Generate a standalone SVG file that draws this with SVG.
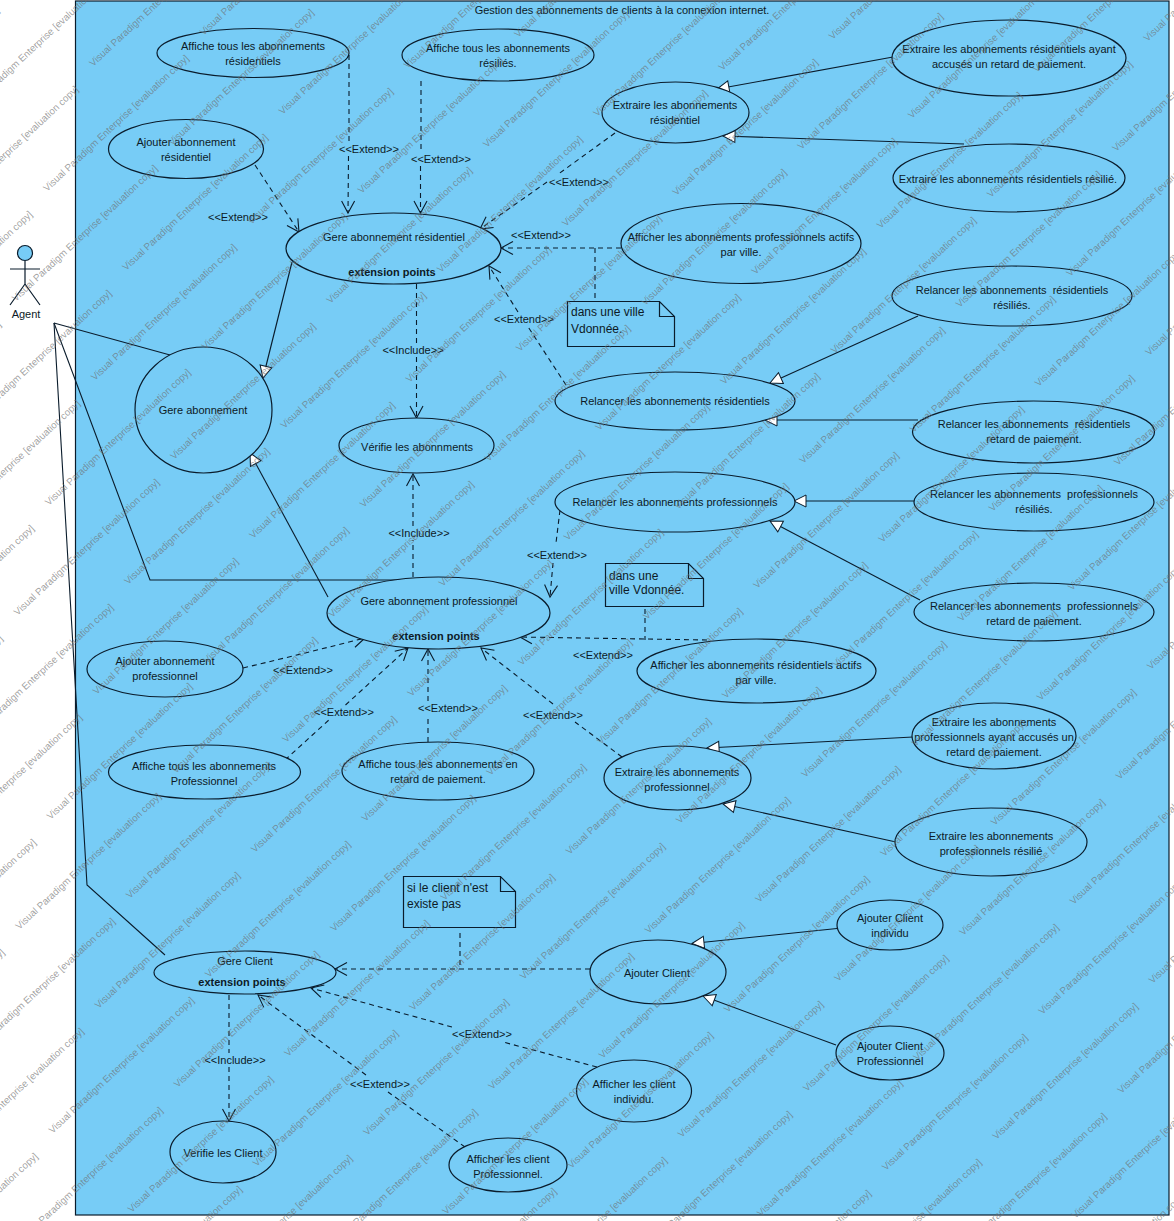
<svg xmlns="http://www.w3.org/2000/svg" xmlns:xlink="http://www.w3.org/1999/xlink" width="1174" height="1221" viewBox="0 0 1174 1221">
<style>
text{font-family:"Liberation Sans",Arial,sans-serif;font-size:11px;fill:#0d1a26;text-anchor:middle}
.n ellipse,.n rect,.n path,.n line,.n circle{fill:none;stroke:#0a1c2c;stroke-width:1.2}
.n ellipse,.n circle,.a circle{fill:#77ccf6}
.b{font-weight:bold}
.t{font-size:12px;text-anchor:start}
.l{fill:none;stroke:#0a1c2c;stroke-width:1.1}
.d{stroke-dasharray:5 4}
.w{fill:#6e6e6e;fill-opacity:.65;text-anchor:start;font-size:9.8px}
</style>
<defs>
<marker id="o" markerWidth="16" markerHeight="16" refX="13" refY="8" orient="auto" markerUnits="userSpaceOnUse"><path d="M1 1.5L13 8L1 14.5" fill="none" stroke="#0a1c2c" stroke-width="1.1"/></marker>
<marker id="h" markerWidth="16" markerHeight="16" refX="13" refY="8" orient="auto" markerUnits="userSpaceOnUse"><path d="M1 2L13 8L1 14Z" fill="#fff" stroke="#0a1c2c" stroke-width="1"/></marker>
<text id="wm" class="w" transform="rotate(-43)">Visual Paradigm Enterprise [evaluation copy]</text>
<g id="r">
<use xlink:href="#wm"/>
<use xlink:href="#wm" transform="translate(79.1 79)"/>
<use xlink:href="#wm" transform="translate(158.2 158)"/>
<use xlink:href="#wm" transform="translate(237.3 237)"/>
<use xlink:href="#wm" transform="translate(316.4 316)"/>
<use xlink:href="#wm" transform="translate(395.5 395)"/>
<use xlink:href="#wm" transform="translate(474.6 474)"/>
<use xlink:href="#wm" transform="translate(553.7 553)"/>
<use xlink:href="#wm" transform="translate(632.8 632)"/>
<use xlink:href="#wm" transform="translate(711.9 711)"/>
<use xlink:href="#wm" transform="translate(791 790)"/>
<use xlink:href="#wm" transform="translate(870.1 869)"/>
<use xlink:href="#wm" transform="translate(949.2 948)"/>
<use xlink:href="#wm" transform="translate(1028.3 1027)"/>
<use xlink:href="#wm" transform="translate(1107.4 1106)"/>
<use xlink:href="#wm" transform="translate(1186.5 1185)"/>
<use xlink:href="#wm" transform="translate(1265.6 1264)"/>
</g>
</defs>
<rect x="75.5" y="1" width="1093.5" height="1214" fill="#77ccf6" stroke="#0a1c2c" stroke-width="1.2"/>
<text x="622" y="14">Gestion des abonnements de clients à la connexion internet.</text>
<g id="connectors">
<g class="l">
<path d="M54 323L170 355"/><path d="M54 323L150 580H413"/><path d="M54 323L87 885L165 955"/>
<path d="M292 262L263 378" marker-end="url(#h)"/><path d="M328 597L250 453" marker-end="url(#h)"/>
<path d="M893 57L717 89" marker-end="url(#h)"/><path d="M964 144L723 136" marker-end="url(#h)"/>
<path d="M918 316L770 383" marker-end="url(#h)"/><path d="M918 420H765" marker-end="url(#h)"/>
<path d="M914 501H794" marker-end="url(#h)"/><path d="M920 600L770 521" marker-end="url(#h)"/>
<path d="M913 737L707 748" marker-end="url(#h)"/><path d="M896 842L723 804" marker-end="url(#h)"/>
<path d="M837 928.5L692 943.5" marker-end="url(#h)"/><path d="M836 1045L703 996" marker-end="url(#h)"/>
</g>
<g class="l d">
<path d="M349 55V142"/><path d="M348.500 156L348 213" marker-end="url(#o)"/>
<path d="M421 81V152"/><path d="M420.500 166V213" marker-end="url(#o)"/>
<path d="M255 165L299 232" marker-end="url(#o)"/>
<path d="M615 133L557 175"/><path d="M547 182L480 229" marker-end="url(#o)"/>
<path d="M621 248H501" marker-end="url(#o)"/><path d="M595 248V301"/>
<path d="M566 385L527.500 326"/><path d="M518 312L489 266" marker-end="url(#o)"/>
<path d="M416.500 284V343"/><path d="M416.500 357V418" marker-end="url(#o)"/>
<path d="M413 577V540"/><path d="M413 526V474" marker-end="url(#o)"/>
<path d="M560 510L556 543"/><path d="M553 563L550 597" marker-end="url(#o)"/>
<path d="M243 668Q310 652 365 638" marker-end="url(#o)"/>
<path d="M285 760L330 719"/><path d="M345.500 705L408 648" marker-end="url(#o)"/>
<path d="M428 742V715"/><path d="M428 701V649" marker-end="url(#o)"/>
<path d="M622 757L575 722"/><path d="M553 704L481 648" marker-end="url(#o)"/>
<path d="M707 640L520 637" marker-end="url(#o)"/>
<path d="M645 609V640"/><path d="M460 933V969"/>
<path d="M590 969H335" marker-end="url(#o)"/>
<path d="M597 1067L503 1042"/><path d="M452 1027L311 988" marker-end="url(#o)"/>
<path d="M465 1147L388 1092"/><path d="M366 1075L258 995" marker-end="url(#o)"/>
<path d="M229 995V1053"/><path d="M229 1067V1121" marker-end="url(#o)"/>
</g>
<text x="369" y="153">&lt;&lt;Extend&gt;&gt;</text><text x="441" y="163">&lt;&lt;Extend&gt;&gt;</text>
<text x="238" y="221">&lt;&lt;Extend&gt;&gt;</text><text x="579" y="186">&lt;&lt;Extend&gt;&gt;</text>
<text x="541" y="239">&lt;&lt;Extend&gt;&gt;</text><text x="524" y="323">&lt;&lt;Extend&gt;&gt;</text>
<text x="413" y="354">&lt;&lt;Include&gt;&gt;</text><text x="419" y="537">&lt;&lt;Include&gt;&gt;</text>
<text x="557" y="559">&lt;&lt;Extend&gt;&gt;</text><text x="303" y="674">&lt;&lt;Extend&gt;&gt;</text>
<text x="344" y="716">&lt;&lt;Extend&gt;&gt;</text><text x="448" y="712">&lt;&lt;Extend&gt;&gt;</text>
<text x="553" y="719">&lt;&lt;Extend&gt;&gt;</text><text x="603" y="659">&lt;&lt;Extend&gt;&gt;</text>
<text x="482" y="1038">&lt;&lt;Extend&gt;&gt;</text><text x="380" y="1088">&lt;&lt;Extend&gt;&gt;</text>
<text x="235" y="1064">&lt;&lt;Include&gt;&gt;</text>
</g>
<g id="agent" class="n a"><circle cx="25" cy="253" r="7.500"/><path d="M25 261V284M10 269H40M25 284L10 305M25 284L40 305"/><text x="26" y="318">Agent</text></g>
<g id="n1" class="n"><ellipse cx="253" cy="53" rx="96" ry="24.500"/><text x="253" y="50">Affiche tous les abonnements</text><text x="253" y="65">résidentiels</text></g>
<g id="n2" class="n"><ellipse cx="498" cy="55" rx="96" ry="26"/><text x="498" y="52">Affiche tous les abonnements</text><text x="498" y="67">résiliés.</text></g>
<g id="n3" class="n"><ellipse cx="675.500" cy="112.500" rx="73.500" ry="30.500"/><text x="675" y="109">Extraire les abonnements</text><text x="675" y="124">résidentiel</text></g>
<g id="n4" class="n"><ellipse cx="1009" cy="58" rx="117" ry="38"/><text x="1009" y="53">Extraire les abonnements résidentiels ayant</text><text x="1009" y="68">accusés un retard de paiement.</text></g>
<g id="n5" class="n"><ellipse cx="1009" cy="178" rx="116" ry="34"/><text x="1008" y="183">Extraire les abonnements résidentiels résilié.</text></g>
<g id="n6" class="n"><ellipse cx="186" cy="149" rx="77.500" ry="29.500"/><text x="186" y="146">Ajouter abonnement</text><text x="186" y="161">résidentiel</text></g>
<g id="n7" class="n"><ellipse cx="393.500" cy="248.500" rx="107.500" ry="35.500"/><text x="394" y="241">Gere abonnement résidentiel</text><text class="b" x="392" y="276">extension points</text></g>
<g id="n8" class="n"><ellipse cx="741" cy="243.500" rx="120" ry="40"/><text x="741" y="241">Afficher les abonnements professionnels actifs</text><text x="741" y="256">par ville.</text></g>
<g id="n9" class="n"><ellipse cx="1012" cy="296" rx="120" ry="30"/><text x="1012" y="294" xml:space="preserve">Relancer les abonnements  résidentiels</text><text x="1012" y="309">résiliés.</text></g>
<g id="n10" class="n"><ellipse cx="203.500" cy="410" rx="68.500" ry="63"/><text x="203" y="414">Gere abonnement</text></g>
<g id="n11" class="n"><ellipse cx="675" cy="401" rx="120" ry="29"/><text x="675" y="405">Relancer les abonnements résidentiels</text></g>
<g id="n12" class="n"><ellipse cx="416.500" cy="445.500" rx="77.500" ry="27.500"/><text x="417" y="451">Vérifie les abonnments</text></g>
<g id="n13" class="n"><ellipse cx="1033.500" cy="432" rx="121" ry="31"/><text x="1034" y="428" xml:space="preserve">Relancer les abonnements  résidentiels</text><text x="1034" y="443">retard de paiement.</text></g>
<g id="n14" class="n"><ellipse cx="675" cy="502" rx="120" ry="30"/><text x="675" y="506">Relancer les abonnements professionnels</text></g>
<g id="n15" class="n"><ellipse cx="1034" cy="502" rx="120" ry="29"/><text x="1034" y="498" xml:space="preserve">Relancer les abonnements  professionnels</text><text x="1034" y="513">résiliés.</text></g>
<g id="n16" class="n"><ellipse cx="1034" cy="612" rx="120" ry="29"/><text x="1034" y="610" xml:space="preserve">Relancer les abonnements  professionnels</text><text x="1034" y="625">retard de paiement.</text></g>
<g id="n17" class="n"><ellipse cx="438.500" cy="613" rx="111.500" ry="36"/><text x="439" y="605">Gere abonnement professionnel</text><text class="b" x="436" y="640">extension points</text></g>
<g id="n18" class="n"><ellipse cx="756.500" cy="671" rx="119.500" ry="32"/><text x="756" y="669">Afficher les abonnements résidentiels actifs</text><text x="756" y="684">par ville.</text></g>
<g id="n19" class="n"><ellipse cx="165" cy="669" rx="78" ry="28"/><text x="165" y="665">Ajouter abonnement</text><text x="165" y="680">professionnel</text></g>
<g id="n20" class="n"><ellipse cx="204.500" cy="772" rx="96" ry="27"/><text x="204" y="770">Affiche tous les abonnements</text><text x="204" y="785">Professionnel</text></g>
<g id="n21" class="n"><ellipse cx="438" cy="771" rx="96" ry="29"/><text x="438" y="768">Affiche tous les abonnements en</text><text x="438" y="783">retard de paiement.</text></g>
<g id="n22" class="n"><ellipse cx="677.500" cy="778" rx="73.500" ry="32"/><text x="677" y="776">Extraire les abonnements</text><text x="677" y="791">professionnel</text></g>
<g id="n23" class="n"><ellipse cx="994" cy="736" rx="82" ry="33"/><text x="994" y="726">Extraire les abonnements</text><text x="994" y="741">professionnels ayant accusés un</text><text x="994" y="756">retard de paiement.</text></g>
<g id="n24" class="n"><ellipse cx="991" cy="842" rx="96" ry="34"/><text x="991" y="840">Extraire les abonnements</text><text x="991" y="855">professionnels résilié</text></g>
<g id="n25" class="n"><ellipse cx="245" cy="972.500" rx="91" ry="21.500"/><text x="245" y="965">Gere Client</text><text class="b" x="242" y="986">extension points</text></g>
<g id="n26" class="n"><ellipse cx="658" cy="972" rx="68" ry="32"/><text x="657" y="977">Ajouter Client</text></g>
<g id="n27" class="n"><ellipse cx="890" cy="925" rx="53" ry="25"/><text x="890" y="922">Ajouter Client</text><text x="890" y="937">individu</text></g>
<g id="n28" class="n"><ellipse cx="890" cy="1053" rx="54" ry="27"/><text x="890" y="1050">Ajouter Client</text><text x="890" y="1065">Professionnel</text></g>
<g id="n29" class="n"><ellipse cx="634" cy="1091" rx="57.500" ry="31"/><text x="634" y="1088">Afficher les client</text><text x="634" y="1103">individu.</text></g>
<g id="n30" class="n"><ellipse cx="508" cy="1165" rx="59" ry="27"/><text x="508" y="1163">Afficher les client</text><text x="508" y="1178">Professionnel.</text></g>
<g id="n31" class="n"><ellipse cx="223" cy="1152" rx="53" ry="31"/><text x="223" y="1157">Verifie les Client</text></g>
<g id="note1" class="n"><path d="M567.500 301.500H659.500L674.500 316.500V346.500H567.500ZM659.500 301.500V316.500H674.500"/><text class="t" x="571" y="316">dans une ville</text><text class="t" x="571" y="333">Vdonnée.</text></g>
<g id="note2" class="n"><path d="M605.500 563.500H688.500L703.500 578.500V606.500H605.500ZM688.500 563.500V578.500H703.500"/><text class="t" x="609" y="580">dans une</text><text class="t" x="609" y="594">ville Vdonnée.</text></g>
<g id="note3" class="n"><path d="M403.500 876.500H500.500L515.500 891.500V927.500H403.500ZM500.500 876.500V891.500H515.500"/><text class="t" x="407" y="892">si le client n'est</text><text class="t" x="407" y="908">existe pas</text></g>
<g id="watermark" transform="translate(5 4)">
<use xlink:href="#r" transform="translate(88 63)"/>
<use xlink:href="#r" transform="translate(402.600 65)"/>
<use xlink:href="#r" transform="translate(717.200 67)"/>
<use xlink:href="#r" transform="translate(1031.800 69)"/>
<use xlink:href="#r" transform="translate(-147.500 140)"/>
<use xlink:href="#r" transform="translate(-145.700 454)"/>
<use xlink:href="#r" transform="translate(-143.900 768)"/>
<use xlink:href="#r" transform="translate(-142.100 1082)"/>
<use xlink:href="#r" transform="translate(-116.200 30)"/>
<use xlink:href="#r" transform="translate(198.400 32)"/>
<use xlink:href="#r" transform="translate(513 34)"/>
<use xlink:href="#r" transform="translate(827.600 36)"/>
<use xlink:href="#r" transform="translate(1142.200 38)"/>
<use xlink:href="#r" transform="translate(-114.400 344)"/>
<use xlink:href="#r" transform="translate(-112.600 658)"/>
<use xlink:href="#r" transform="translate(-110.800 972)"/>
<use xlink:href="#r" transform="translate(-109 1286)"/>
</g>
</svg>
